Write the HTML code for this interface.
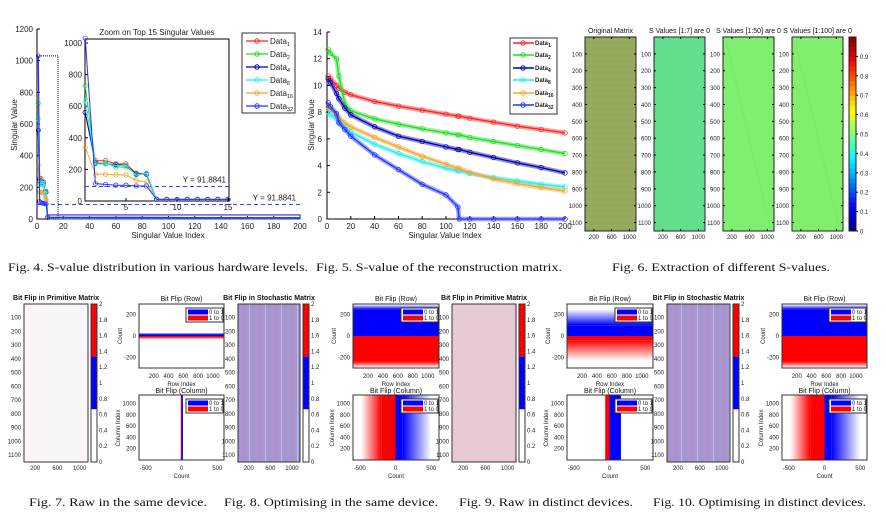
<!DOCTYPE html>
<html><head><meta charset="utf-8"><style>
html,body{margin:0;padding:0;background:#fff;}
svg{display:block;font-family:"Liberation Sans",sans-serif;}
.cap{font-family:"Liberation Serif",serif;font-size:12px;fill:#111;}
.tk{font-size:6px;fill:#222;}
.tk8{font-size:8px;fill:#222;}
.ttl{font-size:7px;fill:#111;}
</style></head><body>
<svg id="fig" width="886" height="527" viewBox="0 0 886 527" xmlns="http://www.w3.org/2000/svg">
<defs>
<linearGradient id="gBlueR" x1="0" y1="1" x2="0" y2="0"><stop offset="0" stop-color="#0000ff"/><stop offset="1" stop-color="#ffffff"/></linearGradient>
<linearGradient id="gRedD" x1="0" y1="0" x2="0" y2="1"><stop offset="0" stop-color="#ff0000"/><stop offset="1" stop-color="#ffffff"/></linearGradient>
<linearGradient id="gBlueC" x1="0" y1="0" x2="1" y2="0"><stop offset="0" stop-color="#0000ff"/><stop offset="1" stop-color="#ffffff"/></linearGradient>
<linearGradient id="gRedC" x1="1" y1="0" x2="0" y2="0"><stop offset="0" stop-color="#ff0000"/><stop offset="1" stop-color="#ffffff"/></linearGradient>
<pattern id="pStoch" width="16" height="6" patternUnits="userSpaceOnUse"><rect width="16" height="6" fill="#a497d6"/><rect x="3" width="2" height="6" fill="#c488b0" fill-opacity="0.8"/><rect x="9" width="1" height="6" fill="#c4b8e8"/><rect x="12" width="1.5" height="6" fill="#b88ab8" fill-opacity="0.8"/></pattern>
</defs>
<g id="root"></g>
</svg>
<script>
// ---------- Fig 4 data ----------
const f4Index = [1,2,3,4,5,6,7,8,9,10,11,12,13,14,15];
const f4Data1  = [560,255,255,235,235,175,175,10,10,10,10,10,10,10,10];
const f4Data2  = [730,240,240,215,215,170,170,10,10,10,10,10,10,10,10];
const f4Data4  = [560,240,235,230,225,170,170,10,10,10,10,10,10,10,10];
const f4Data8  = [630,235,235,225,225,165,175,10,10,10,10,10,10,10,10];
const f4Data16 = [340,170,170,165,165,130,120,10,10,10,10,10,10,10,10];
const f4Data32 = [1030,110,105,100,100,95,95,10,10,10,10,10,10,10,10];
const f4TailIndex = [200];
const f4TailValue = [8];
const f4Threshold = [91.8841];
const f4YTicks = [0,200,400,600,800,1000,1200];
const f4XTicks = [0,20,40,60,80,100,120,140,160,180,200];
const f4InsetYTicks = [0,200,400,600,800,1000];
const f4InsetXTicks = [5,10,15];
// ---------- Fig 5 data ----------
const f5Index  = [1,3,8,10,15,20,40,60,80,100,110,111,120,140,160,180,200];
const f5Data1  = [10.7,10.5,10.0,9.8,9.5,9.3,8.8,8.45,8.15,7.85,7.7,7.7,7.55,7.25,6.95,6.7,6.45];
const f5Data2  = [12.7,12.4,12.0,10.7,8.6,8.1,7.5,7.1,6.75,6.45,6.3,6.3,6.1,5.8,5.5,5.2,4.9];
const f5Data4  = [10.5,10.2,9.4,9.0,8.3,7.8,6.9,6.2,5.8,5.4,5.2,5.2,5.0,4.6,4.2,3.85,3.45];
const f5Data8  = [8.0,7.8,7.5,7.3,6.9,6.5,5.6,4.9,4.3,3.8,3.6,3.6,3.4,3.1,2.85,2.6,2.4];
const f5Data16 = [8.4,8.2,7.8,7.6,7.2,6.9,6.1,5.4,4.7,4.1,3.8,3.8,3.5,3.0,2.65,2.35,2.1];
const f5Data32 = [8.7,8.4,7.9,7.2,6.7,6.2,4.8,3.7,2.6,1.8,0.9,0,0,0,0,0,0];
const f5YTicks = [0,2,4,6,8,10,12,14];
const f5XTicks = [0,20,40,60,80,100,120,140,160,180,200];
// ---------- Fig 6 data ----------
const f6Titles = ["Original Matrix","S Values [1:7] are 0","S Values [1:50] are 0","S Values [1:100] are 0"];
const f6MeanValue = [0.52,0.45,0.49,0.495];
const f6YTicks = [100,200,300,400,500,600,700,800,900,1000,1100];
const f6XTicks = [200,600,1000];
const f6CbTicks = [0,0.1,0.2,0.3,0.4,0.5,0.6,0.7,0.8,0.9];
// ---------- Bit flip data (per figure: blue solid, blue fade, red solid, red fade) ----------
const bfRowBlueSolid = [15,250,100,250];
const bfRowBlueFade  = [30,295,250,295];
const bfRowRedSolid  = [10,240,40,240];
const bfRowRedFade   = [30,295,230,295];
const bfColBlueSolid = [20,100,160,100];
const bfColBlueFade  = [20,500,160,500];
const bfColRedSolid  = [10,200,60,200];
const bfColRedFade   = [10,480,60,480];
const bfRowTicks = [-200,0,200];
const bfRowXTicks = [200,400,600,800,1000];
const bfColYTicks = [200,400,600,800,1000];
const bfColXTicks = [-500,0,500];
const bfCbTicks = [0,0.2,0.4,0.6,0.8,1,1.2,1.4,1.6,1.8,2];
const bfHeatTitles = ["Bit Flip in Primitive Matrix","Bit Flip in Stochastic Matrix","Bit Flip in Primitive Matrix","Bit Flip in Stochastic Matrix"];

const NS="http://www.w3.org/2000/svg";
const root=document.getElementById('root');
function el(tag,attrs,parent){const e=document.createElementNS(NS,tag);for(const k in attrs)e.setAttribute(k,attrs[k]);(parent||root).appendChild(e);return e;}
function txt(s,x,y,cls,anchor,parent){const t=el('text',{x:x,y:y,'class':cls,'text-anchor':anchor||'middle'},parent);t.textContent=s;return t;}

// ================= FIG 4 =================
const xm=v=>37+v*263/200, ym=v=>219-v*190/1200;
const xi=v=>85.2+(v-1)*10.2, yi=v=>201-v*0.158;
const colors=["#ff2222","#22dd22","#0000b4","#22eeee","#f0a830","#2233ff"];
const names=["1","2","4","8","16","32"];
const f4Series=[f4Data1,f4Data2,f4Data4,f4Data8,f4Data16,f4Data32];
{
 const g=el('g',{});
 
 
 const ax=el('path',{d:`M${xm(0)},${ym(1200)}V${ym(0)}H${xm(200)}`,stroke:'#000','stroke-width':1,fill:'none'},g);
 
 
 f4YTicks.forEach(v=>{el('line',{x1:xm(0),x2:xm(0)+3,y1:ym(v),y2:ym(v),stroke:'#000'},g);const t=txt(v,33,ym(v)+3,'tk8','end',g);});
 f4XTicks.forEach(v=>{el('line',{x1:xm(v),x2:xm(v),y1:ym(0),y2:ym(0)-3,stroke:'#000'},g);const t=txt(v,xm(v),229,'tk8','middle',g);});
 const xl=txt('Singular Value Index',168,238,'tk8','middle',g);xl.setAttribute('font-size','9');
 
 
 const yl=txt('Singular Value',0,0,'tk8','middle',g);yl.setAttribute('transform','translate(17,125) rotate(-90)');yl.setAttribute('font-size','9');
 
 
 const th=el('line',{x1:xm(0),x2:xm(200),y1:ym(f4Threshold[0]),y2:ym(f4Threshold[0]),stroke:'#3344ff','stroke-dasharray':'4,3'},g);
 
 
 const tl=txt('Y = '+f4Threshold[0],296,ym(f4Threshold[0])-4,'tk8','end',g);tl.setAttribute('fill','#2233ff');
 
 
 f4Series.forEach((s,k)=>{
  const pts=f4Index.map((x,i)=>xm(x)+','+ym(s[i]));
  f4TailIndex.forEach((x,i)=>pts.push(xm(x)+','+ym(f4TailValue[i])));
  const p=el('polyline',{points:pts.join(' '),fill:'none',stroke:colors[k],'stroke-width':1.2},g);
  
  
  f4Index.slice(0,8).forEach((x,i)=>{const c=el('circle',{cx:xm(x),cy:ym(s[i]),r:2,fill:'none',stroke:colors[k],'stroke-width':0.7},g);});
 });
 el('rect',{x:xm(8),y:ym(10)-2.5,width:xm(200)-xm(8),height:4,fill:'none',stroke:'#3040e0','stroke-width':1.2},g);
 const db=el('rect',{x:xm(0),y:ym(1030),width:xm(16)-xm(0),height:ym(0)-ym(1030),fill:'none',stroke:'#000','stroke-dasharray':'1,1'},g);
 
 
 const ig=el('g',{},g);
 
 
 el('rect',{x:85,y:39,width:144,height:162,fill:'#fff',stroke:'#000'},ig);
 const it=txt('Zoom on Top 15 Singular Values',157,35,'tk8','middle',ig);it.setAttribute('font-size','8.5');
 
 
 f4InsetYTicks.forEach(v=>{el('line',{x1:85,x2:88,y1:yi(v),y2:yi(v),stroke:'#000'},ig);txt(v,82,yi(v)+3,'tk8','end',ig);});
 f4InsetXTicks.forEach(v=>{el('line',{x1:xi(v),x2:xi(v),y1:201,y2:198,stroke:'#000'},ig);txt(v,xi(v),210,'tk8','middle',ig);});
 el('line',{x1:85,x2:229,y1:yi(f4Threshold[0]),y2:yi(f4Threshold[0]),stroke:'#3344ff','stroke-dasharray':'4,3'},ig);
 const tl2=txt('Y = '+f4Threshold[0],226,yi(f4Threshold[0])-4,'tk8','end',ig);tl2.setAttribute('fill','#2233ff');
 f4Series.forEach((s,k)=>{
  const p=el('polyline',{points:f4Index.map((x,i)=>xi(x)+','+yi(s[i])).join(' '),fill:'none',stroke:colors[k],'stroke-width':1},ig);
  
  
  f4Index.forEach((x,i)=>{const c=el('circle',{cx:xi(x),cy:yi(s[i]),r:2.2,fill:'none',stroke:colors[k],'stroke-width':0.7},ig);});
 });
 const lg=el('g',{},g);
 
 
 el('rect',{x:242,y:33,width:53,height:80,fill:'#fff',stroke:'#333'},lg);
 [41,54,67,80,93,106].forEach((y,k)=>{
  const e=el('g',{},lg);
  
  
  el('line',{x1:246,x2:268,y1:y,y2:y,stroke:colors[k],'stroke-width':1.2},e);
  el('circle',{cx:257,cy:y,r:2.2,fill:'none',stroke:colors[k]},e);
  const t=el('text',{x:270,y:y+3,'class':'tk8'},e);t.textContent='Data';
  const sub=el('tspan',{'font-size':'5.5',dy:'2'},t);sub.textContent=names[k];
 });
}

// ================= FIG 5 =================
const x5=v=>327+v*238/200, y5=v=>219-v*187/14;
const f5Series=[f5Data1,f5Data2,f5Data4,f5Data8,f5Data16,f5Data32];
{
 const g=el('g',{});
 
 
 const ax=el('path',{d:`M${x5(0)},${y5(14)}V${y5(0)}H${x5(200)}`,stroke:'#000',fill:'none'},g);
 
 
 f5YTicks.forEach(v=>{el('line',{x1:x5(0),x2:x5(0)+3,y1:y5(v),y2:y5(v),stroke:'#000'},g);const t=txt(v,322,y5(v)+3,'tk8','end',g);});
 f5XTicks.forEach(v=>{el('line',{x1:x5(v),x2:x5(v),y1:y5(0),y2:y5(0)-3,stroke:'#000'},g);const t=txt(v,x5(v),229,'tk8','middle',g);});
 const xl=txt('Singular Value Index',445,238,'tk8','middle',g);xl.setAttribute('font-size','9');
 
 
 const yl=txt('Singular Value',0,0,'tk8','middle',g);yl.setAttribute('transform','translate(314,125) rotate(-90)');yl.setAttribute('font-size','9');
 
 
 const order=[3,4,0,1,2,5];
 order.forEach(k=>{
  const s=f5Series[k];
  const pts=f5Index.map((x,i)=>x5(x)+','+y5(s[i])).join(' ');
  const halo=el('polyline',{points:pts,fill:'none',stroke:colors[k],'stroke-width':4.5,'stroke-opacity':0.45,'stroke-linejoin':'round'},g);
  
  
  const p=el('polyline',{points:pts,fill:'none',stroke:colors[k],'stroke-width':1.3},g);
  
  
  f5Index.forEach((x,i)=>{const c=el('circle',{cx:x5(x),cy:y5(s[i]),r:2.3,fill:'none',stroke:colors[k],'stroke-width':0.7},g);});
 });
 const lg=el('g',{},g);
 
 
 el('rect',{x:510,y:38,width:47,height:76,fill:'#fff',stroke:'#333'},lg);
 [43,55,68,80,93,105].forEach((y,k)=>{
  const e=el('g',{},lg);
  
  
  el('line',{x1:513,x2:534,y1:y,y2:y,stroke:colors[k],'stroke-width':1.5},e);
  el('circle',{cx:523,cy:y,r:2.2,fill:'none',stroke:colors[k]},e);
  const t=el('text',{x:535,y:y+2,'class':'tk','font-weight':'bold','font-size':'6.5'},e);t.textContent='Data';
  const sub=el('tspan',{'font-size':'5',dy:'2'},t);sub.textContent=names[k];
 });
}

// ================= FIG 6 =================
function jet(v){const f=(a)=>Math.max(0,Math.min(1,1.5-Math.abs(4*v-a)));return `rgb(${Math.round(255*f(3))},${Math.round(255*f(2))},${Math.round(255*f(1))})`;}
const f6PanelColor=['#93aa5c','#62de8c','#80ee70','#82ef6c'];
{
 const g=el('g',{});
 
 
 const lefts=[585,654,723,792], W=51, top=37, H=194;
 const yv=v=>top+v*H/1150;
 f6Titles.forEach((title,k)=>{
  const x0=lefts[k];
  const p=el('g',{},g);
  
  
  const r=el('rect',{x:x0,y:top,width:W,height:H,fill:f6PanelColor[k],stroke:'#222'},p);
  
  
  if(k===0){for(let y=top+3;y<top+H;y+=6)el('line',{x1:x0,x2:x0+W,y1:y,y2:y,stroke:'#a8b860','stroke-width':0.6,'stroke-opacity':0.6},p);}
  if(k>=2)el('line',{x1:x0+4,y1:top+8,x2:x0+W-4,y2:top+H-4,stroke:'#74dc74','stroke-width':0.5},p);
  const t=txt(title,x0+W/2,33,'ttl','middle',p);t.setAttribute('font-size','7');
  
  
  f6YTicks.forEach(v=>{el('line',{x1:x0,x2:x0+2,y1:yv(v),y2:yv(v),stroke:'#000'},p);el('line',{x1:x0+W,x2:x0+W-2,y1:yv(v),y2:yv(v),stroke:'#000'},p);txt(v,x0-3,yv(v)+2.5,'tk','end',p);});
  f6XTicks.forEach(v=>{const x=x0+v*W/1150;el('line',{x1:x,x2:x,y1:top+H,y2:top+H-2,stroke:'#000'},p);el('line',{x1:x,x2:x,y1:top,y2:top+2,stroke:'#000'},p);txt(v,x,top+H+8,'tk','middle',p);});
 });
 const cb=el('g',{},g);
 
 
 for(let i=0;i<40;i++){el('rect',{x:849,y:top+H-(i+1)*H/40,width:7,height:H/40+0.5,fill:jet((i+0.5)/40)},cb);}
 el('rect',{x:849,y:top,width:7,height:H,fill:'none',stroke:'#222'},cb);
 f6CbTicks.forEach(v=>{const y=top+H-v*H;el('line',{x1:856,x2:858,y1:y,y2:y,stroke:'#000'},cb);txt(v,860,y+2.5,'tk','start',cb);});
}

// ================= Bit flip helpers =================
function heatmap(x0,idx,fillKind){
 const top=304,W=x0[1]-x0[0],H=158;
 const g=el('g',{});
 
 
 const fill=fillKind==='white'?'#faf5f8':fillKind==='pink'?'#e8cad6':'url(#pStoch)';
 el('rect',{x:x0[0],y:top,width:W,height:H,fill:fill,stroke:'#333'},g);
 const t=txt(bfHeatTitles[idx],(x0[0]+x0[1])/2,300,'ttl','middle',g);t.setAttribute('font-size','6');t.setAttribute('font-weight','bold');
 
 
 const yv=v=>top+v*H/1150;
 [100,200,300,400,500,600,700,800,900,1000,1100].forEach(v=>txt(v,x0[0]-3,yv(v)+2,'tk','end',g).setAttribute('font-size','5.5'));
 [200,600,1000].forEach(v=>txt(v,x0[0]+v*W/1150,470,'tk','middle',g).setAttribute('font-size','5.5'));
 const cx=x0[1]+3;
 const cb=el('g',{},g);
 
 
 el('rect',{x:cx,y:top,width:6,height:H*0.333,fill:'#ff0000'},cb);
 el('rect',{x:cx,y:top+H*0.333,width:6,height:H*0.333,fill:'#0000ff'},cb);
 el('rect',{x:cx,y:top,width:6,height:H,fill:'none',stroke:'#333'},cb);
 bfCbTicks.forEach(v=>{const y=top+H-v/2*H;txt(v,cx+8,y+2,'tk','start',cb).setAttribute('font-size','5');});
}
function legend(x,y,g){
 const lg=el('g',{},g);
 
 
 el('rect',{x:x,y:y,width:37,height:14,fill:'#fff',stroke:'#333'},lg);
 el('rect',{x:x+2,y:y+1.5,width:20,height:5,fill:'#0000ff'},lg);
 el('rect',{x:x+2,y:y+7.5,width:20,height:5,fill:'#ff0000'},lg);
 txt('0 to 1',x+23,y+6,'tk','start',lg).setAttribute('font-size','4.5');
 txt('1 to 0',x+23,y+12,'tk','start',lg).setAttribute('font-size','4.5');
}
function rowPlot(L,R,idx){
 const top=304,bot=368,mid=336,s=32/300;
 const yv=v=>mid-v*s;
 const g=el('g',{});
 
 
 el('rect',{x:L,y:top,width:R-L,height:bot-top,fill:'#fff'},g);
 const bf=el('rect',{x:L,y:yv(bfRowBlueFade[idx]),width:R-L,height:yv(bfRowBlueSolid[idx])-yv(bfRowBlueFade[idx]),fill:'url(#gBlueR)'},g);
 
 
 const bs=el('rect',{x:L,y:yv(bfRowBlueSolid[idx]),width:R-L,height:mid-yv(bfRowBlueSolid[idx]),fill:'#0000ff'},g);
 
 
 const rs=el('rect',{x:L,y:mid,width:R-L,height:yv(-bfRowRedSolid[idx])-mid,fill:'#ff0000'},g);
 
 
 const rf=el('rect',{x:L,y:yv(-bfRowRedSolid[idx]),width:R-L,height:yv(-bfRowRedFade[idx])-yv(-bfRowRedSolid[idx]),fill:'url(#gRedD)'},g);
 
 
 el('rect',{x:L,y:top,width:R-L,height:bot-top,fill:'none',stroke:'#333'},g);
 txt('Bit Flip (Row)',(L+R)/2,301,'ttl','middle',g).setAttribute('font-size','6');
 bfRowTicks.forEach(v=>txt(v,L-3,yv(v)+2,'tk','end',g));
 bfRowXTicks.forEach(v=>txt(v,L+v*(R-L)/1150,378,'tk','middle',g));
 txt('Row Index',(L+R)/2,386,'tk','middle',g).setAttribute('font-size','6.5');
 const yl=txt('Count',0,0,'tk','middle',g);yl.setAttribute('transform',`translate(${L-17},336) rotate(-90)`);yl.setAttribute('font-size','6.5');
 legend(R-38,308,g);
}
function colPlot(L,R,idx){
 const top=395,bot=460,z=L+42.5,s=0.0715;
 const xv=v=>z+v*s;
 const g=el('g',{});
 
 
 el('rect',{x:L,y:top,width:R-L,height:bot-top,fill:'#fff'},g);
 const rf=el('rect',{x:xv(-bfColRedFade[idx]),y:top,width:xv(-bfColRedSolid[idx])-xv(-bfColRedFade[idx]),height:bot-top,fill:'url(#gRedC)'},g);
 
 
 const rs=el('rect',{x:xv(-bfColRedSolid[idx]),y:top,width:z-xv(-bfColRedSolid[idx]),height:bot-top,fill:'#ff0000'},g);
 
 
 const bs=el('rect',{x:z,y:top,width:xv(bfColBlueSolid[idx])-z,height:bot-top,fill:'#0000ff'},g);
 
 
 const bf=el('rect',{x:xv(bfColBlueSolid[idx]),y:top,width:xv(bfColBlueFade[idx])-xv(bfColBlueSolid[idx]),height:bot-top,fill:'url(#gBlueC)'},g);
 
 
 el('rect',{x:L,y:top,width:R-L,height:bot-top,fill:'none',stroke:'#333'},g);
 txt('Bit Flip (Column)',(L+R)/2,393,'ttl','middle',g).setAttribute('font-size','6');
 bfColYTicks.forEach(v=>txt(v,L-3,bot-v*(bot-top)/1150+2,'tk','end',g));
 bfColXTicks.forEach(v=>txt(v,xv(v),470,'tk','middle',g));
 txt('Count',(L+R)/2,478,'tk','middle',g).setAttribute('font-size','6.5');
 const yl=txt('Column Index',0,0,'tk','middle',g);yl.setAttribute('transform',`translate(${L-19},428) rotate(-90)`);yl.setAttribute('font-size','6.5');
 legend(R-38,399,g);
}
heatmap([24,88],0,'white'); rowPlot(139,224,0); colPlot(139,224,0);
heatmap([238,300],1,'stoch'); rowPlot(353,439,1); colPlot(353,439,1);
heatmap([452,516],2,'pink'); rowPlot(567,653,2); colPlot(567,653,2);
heatmap([667,730],3,'stoch'); rowPlot(782,867,3); colPlot(782,867,3);

// ================= captions =================
const caps=[["Fig. 4.  S-value distribution in various hardware levels.",8,271,300],
 ["Fig. 5.  S-value of the reconstruction matrix.",316,271,246],
 ["Fig. 6.  Extraction of different S-values.",612,271,218],
 ["Fig. 7.  Raw in the same device.",29,506,178],
 ["Fig. 8.  Optimising in the same device.",224,506,214],
 ["Fig. 9.  Raw in distinct devices.",459,506,174],
 ["Fig. 10.  Optimising in distinct devices.",653,506,213]];
caps.forEach((c,i)=>{
 const t=el('text',{x:c[1],y:c[2],'class':'cap',textLength:c[3],lengthAdjust:'spacingAndGlyphs'});
 t.textContent=c[0];
 
 
});
</script>
</body></html>
